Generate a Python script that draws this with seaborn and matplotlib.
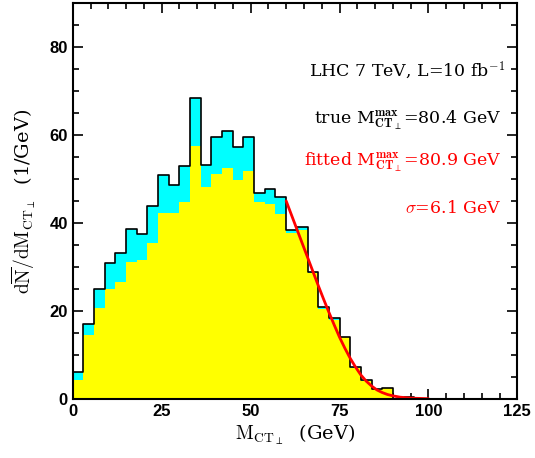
import numpy as np
import matplotlib
matplotlib.use("Agg")
import matplotlib.pyplot as plt
import seaborn as sns
from matplotlib.ticker import MultipleLocator

# ---- data ----
bin_width = 3.0
bin_left = [0, 3, 6, 9, 12, 15, 18, 21, 24, 27, 30, 33, 36, 39, 42, 45, 48, 51,
            54, 57, 60, 63, 66, 69, 72, 75, 78, 81, 84, 87, 90, 93]
total = [6.1, 17.1, 24.9, 30.8, 33.2, 38.6, 37.4, 43.9, 50.8, 48.6, 52.9, 68.5,
         53.1, 59.5, 60.9, 57.2, 59.5, 46.9, 47.8, 45.9, 38.5, 39.1, 28.9, 20.9,
         18.4, 14.1, 7.2, 4.2, 2.2, 2.5, 0.0, 0.4]
signal = [4.3, 14.6, 20.7, 24.9, 26.5, 31.0, 31.6, 35.4, 42.3, 42.3, 44.7, 57.4,
          48.1, 51.2, 52.4, 49.8, 51.9, 44.8, 44.2, 42.1, 37.7, 38.4, 28.5, 20.5,
          17.9, 14.0, 7.0, 4.1, 2.1, 2.5, 0.0, 0.3]
fit_x = [60, 61.5, 63, 64.5, 66, 67.5, 69, 70.5, 72, 73.5, 75, 76.5, 78, 79.5,
         81, 82.5, 84, 85.5, 87, 88.5, 90, 92, 94, 96, 98, 100]
fit_y = [45.0, 41.8, 38.6, 35.4, 32.2, 29.0, 25.8, 22.7, 19.7, 16.8, 14.0, 11.5,
         9.2, 7.2, 5.4, 4.0, 2.9, 2.0, 1.4, 0.95, 0.65, 0.35, 0.2, 0.1, 0.05, 0.0]
x_ticks = [0, 25, 50, 75, 100, 125]
y_ticks = [0, 20, 40, 60, 80]

edges = [b for b in bin_left] + [bin_left[-1] + bin_width]
centers = [b + bin_width / 2 for b in bin_left]

sns.set_style("ticks")
plt.rcParams["font.family"] = ["Liberation Sans", "DejaVu Sans"]
plt.rcParams["mathtext.fontset"] = "cm"
plt.rcParams["text.color"] = "black"
plt.rcParams["axes.labelcolor"] = "black"
plt.rcParams["xtick.color"] = "black"
plt.rcParams["ytick.color"] = "black"

fig = plt.figure(figsize=(5.35, 4.58), dpi=100)
ax = fig.add_axes([0.136, 0.1295, 0.831, 0.8635])

sns.histplot(x=centers, weights=total, bins=edges, element="step", fill=True,
             color="#00ffff", alpha=1, linewidth=0, ax=ax)
sns.histplot(x=centers, weights=signal, bins=edges, element="step", fill=True,
             color="#ffff00", alpha=1, linewidth=0, ax=ax)
sns.histplot(x=centers, weights=total, bins=edges, element="step", fill=False,
             color="black", linewidth=1.2, ax=ax)
sns.lineplot(x=fit_x, y=fit_y, color="red", linewidth=2.0, ax=ax)

ax.set_xlim(0, 125)
ax.set_ylim(0, 90)
ax.set_xticks(x_ticks)
ax.set_yticks(y_ticks)
ax.xaxis.set_minor_locator(MultipleLocator(5))
ax.yaxis.set_minor_locator(MultipleLocator(5))
ax.tick_params(which="both", direction="in", top=True, right=True, width=1.2,
               color="black", labelcolor="black")
ax.tick_params(which="major", length=7, labelsize=12)
ax.tick_params(which="minor", length=4)
for lbl in ax.get_xticklabels() + ax.get_yticklabels():
    lbl.set_fontweight("bold")
for s in ax.spines.values():
    s.set_linewidth(1.5)
    s.set_color("black")

ax.set_xlabel(r"$\mathrm{M_{CT_\perp}}$  (GeV)", fontsize=14,
              fontfamily="DejaVu Serif", labelpad=3, color="black")
ax.set_ylabel(r"$\mathrm{d\overline{N}/dM_{CT_\perp}}$  (1/GeV)", fontsize=14,
              fontfamily="DejaVu Serif", labelpad=8, color="black")

tkw = dict(ha="right", va="center", fontsize=12.5, fontfamily="DejaVu Serif")
ax.text(121.5, 74.8, r"LHC 7 TeV, L=10 fb$^{-1}$", color="black", **tkw)
ax.text(120.5, 63.3, r"true M$_{\mathbf{CT}_\perp}^{\mathbf{max}}$=80.4 GeV", color="black", **tkw)
ax.text(120.5, 53.8, r"fitted M$_{\mathbf{CT}_\perp}^{\mathbf{max}}$=80.9 GeV", color="red", **tkw)
ax.text(120.5, 43.3, r"$\sigma$=6.1 GeV", color="red", **tkw)

fig.savefig("out.png", dpi=100)
